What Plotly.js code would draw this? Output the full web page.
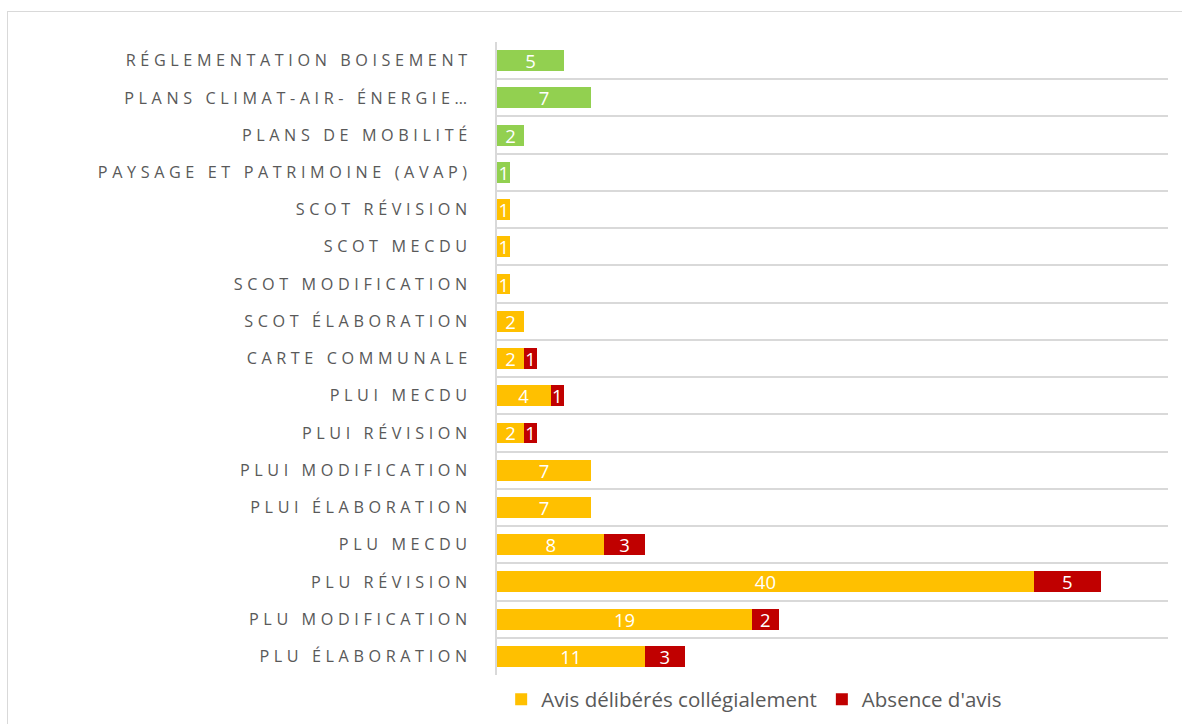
<!DOCTYPE html>
<html>
<head>
<meta charset="utf-8">
<script src="https://cdn.plot.ly/plotly-3.0.1.min.js"></script>
<style>
  html, body { margin: 0; padding: 0; background: #fff; overflow: hidden; }
  #frame { position: absolute; left: 7px; top: 11px; width: 1200px; height: 740px;
           border: 1.5px solid #d9d9d9; box-sizing: border-box; }
  #chart { position: absolute; left: 0; top: 0; width: 1182px; height: 724px; }
  #chart .ytick text { letter-spacing: 4.6px; }
</style>
</head>
<body>
<div id="frame"></div>
<div id="chart"></div>
<script>
// Categories, listed bottom to top
const categories = [
  "PLU ÉLABORATION",
  "PLU MODIFICATION",
  "PLU RÉVISION",
  "PLU MECDU",
  "PLUI ÉLABORATION",
  "PLUI MODIFICATION",
  "PLUI RÉVISION",
  "PLUI MECDU",
  "CARTE COMMUNALE",
  "SCOT ÉLABORATION",
  "SCOT MODIFICATION",
  "SCOT MECDU",
  "SCOT RÉVISION",
  "PAYSAGE ET PATRIMOINE (AVAP)",
  "PLANS DE MOBILITÉ",
  "PLANS CLIMAT-AIR- ÉNERGIE…",
  "RÉGLEMENTATION BOISEMENT"
];
const avisDeliberes = [11, 19, 40, 8, 7, 7, 2, 4, 2, 2, 1, 1, 1, 1, 2, 7, 5];
const absenceAvis   = [3, 2, 5, 3, null, null, 1, 1, 1, null, null, null, null, null, null, null, null];
// which rows are drawn in green (non-urbanism plans)
const greenRows = ["PAYSAGE ET PATRIMOINE (AVAP)", "PLANS DE MOBILITÉ", "PLANS CLIMAT-AIR- ÉNERGIE…", "RÉGLEMENTATION BOISEMENT"];

const YELLOW = "#ffc000", RED = "#c00000", GREEN = "#92d050";
const avisColors = categories.map(c => greenRows.includes(c) ? GREEN : YELLOW);

const labelFont = { family: "'Open Sans', Lato, sans-serif", size: 18.5, color: "#ffffff" };

const traces = [
  {
    type: "bar", orientation: "h", name: "Avis délibérés collégialement",
    y: categories, x: avisDeliberes,
    marker: { color: avisColors },
    text: avisDeliberes.map(v => v == null ? "" : String(v)),
    textposition: "inside", insidetextanchor: "middle", textangle: 0,
    constraintext: "none", textfont: labelFont, hoverinfo: "x+y+name"
  },
  {
    type: "bar", orientation: "h", name: "Absence d'avis",
    y: categories, x: absenceAvis,
    marker: { color: RED },
    text: absenceAvis.map(v => v == null ? "" : String(v)),
    textposition: "inside", insidetextanchor: "middle", textangle: 0,
    constraintext: "none", textfont: labelFont, hoverinfo: "x+y+name"
  }
];

const layout = {
  width: 1182, height: 724,
  paper_bgcolor: "rgba(0,0,0,0)", plot_bgcolor: "rgba(0,0,0,0)",
  margin: { l: 497, r: 14, t: 42, b: 49, pad: 0, autoexpand: false },
  barmode: "stack", bargap: 0.44,
  showlegend: true,
  legend: {
    orientation: "h", xref: "container", yref: "container",
    x: 0.424, xanchor: "left", y: 0.034, yanchor: "middle",
    font: { family: "'Open Sans', Lato, sans-serif", size: 20.5, color: "#595959" },
    itemwidth: 30, traceorder: "normal", bgcolor: "rgba(0,0,0,0)"
  },
  xaxis: {
    range: [0, 50], showgrid: false, zeroline: false, showticklabels: false,
    ticks: "", showline: false, fixedrange: true
  },
  yaxis: {
    type: "category", categoryorder: "array", categoryarray: categories,
    tickson: "boundaries", showgrid: true, gridcolor: "#d9d9d9", gridwidth: 2,
    ticks: "", ticklabelstandoff: 20,
    showline: true, linecolor: "#d9d9d9", linewidth: 2,
    tickfont: { family: "'Open Sans', Lato, sans-serif", size: 16.2, color: "#595959" },
    range: [-0.5, 16.5], fixedrange: true
  },
  font: { family: "'Open Sans', Lato, sans-serif", color: "#595959" }
};

Plotly.newPlot("chart", traces, layout, { displayModeBar: false, staticPlot: true });
</script>
</body>
</html>
